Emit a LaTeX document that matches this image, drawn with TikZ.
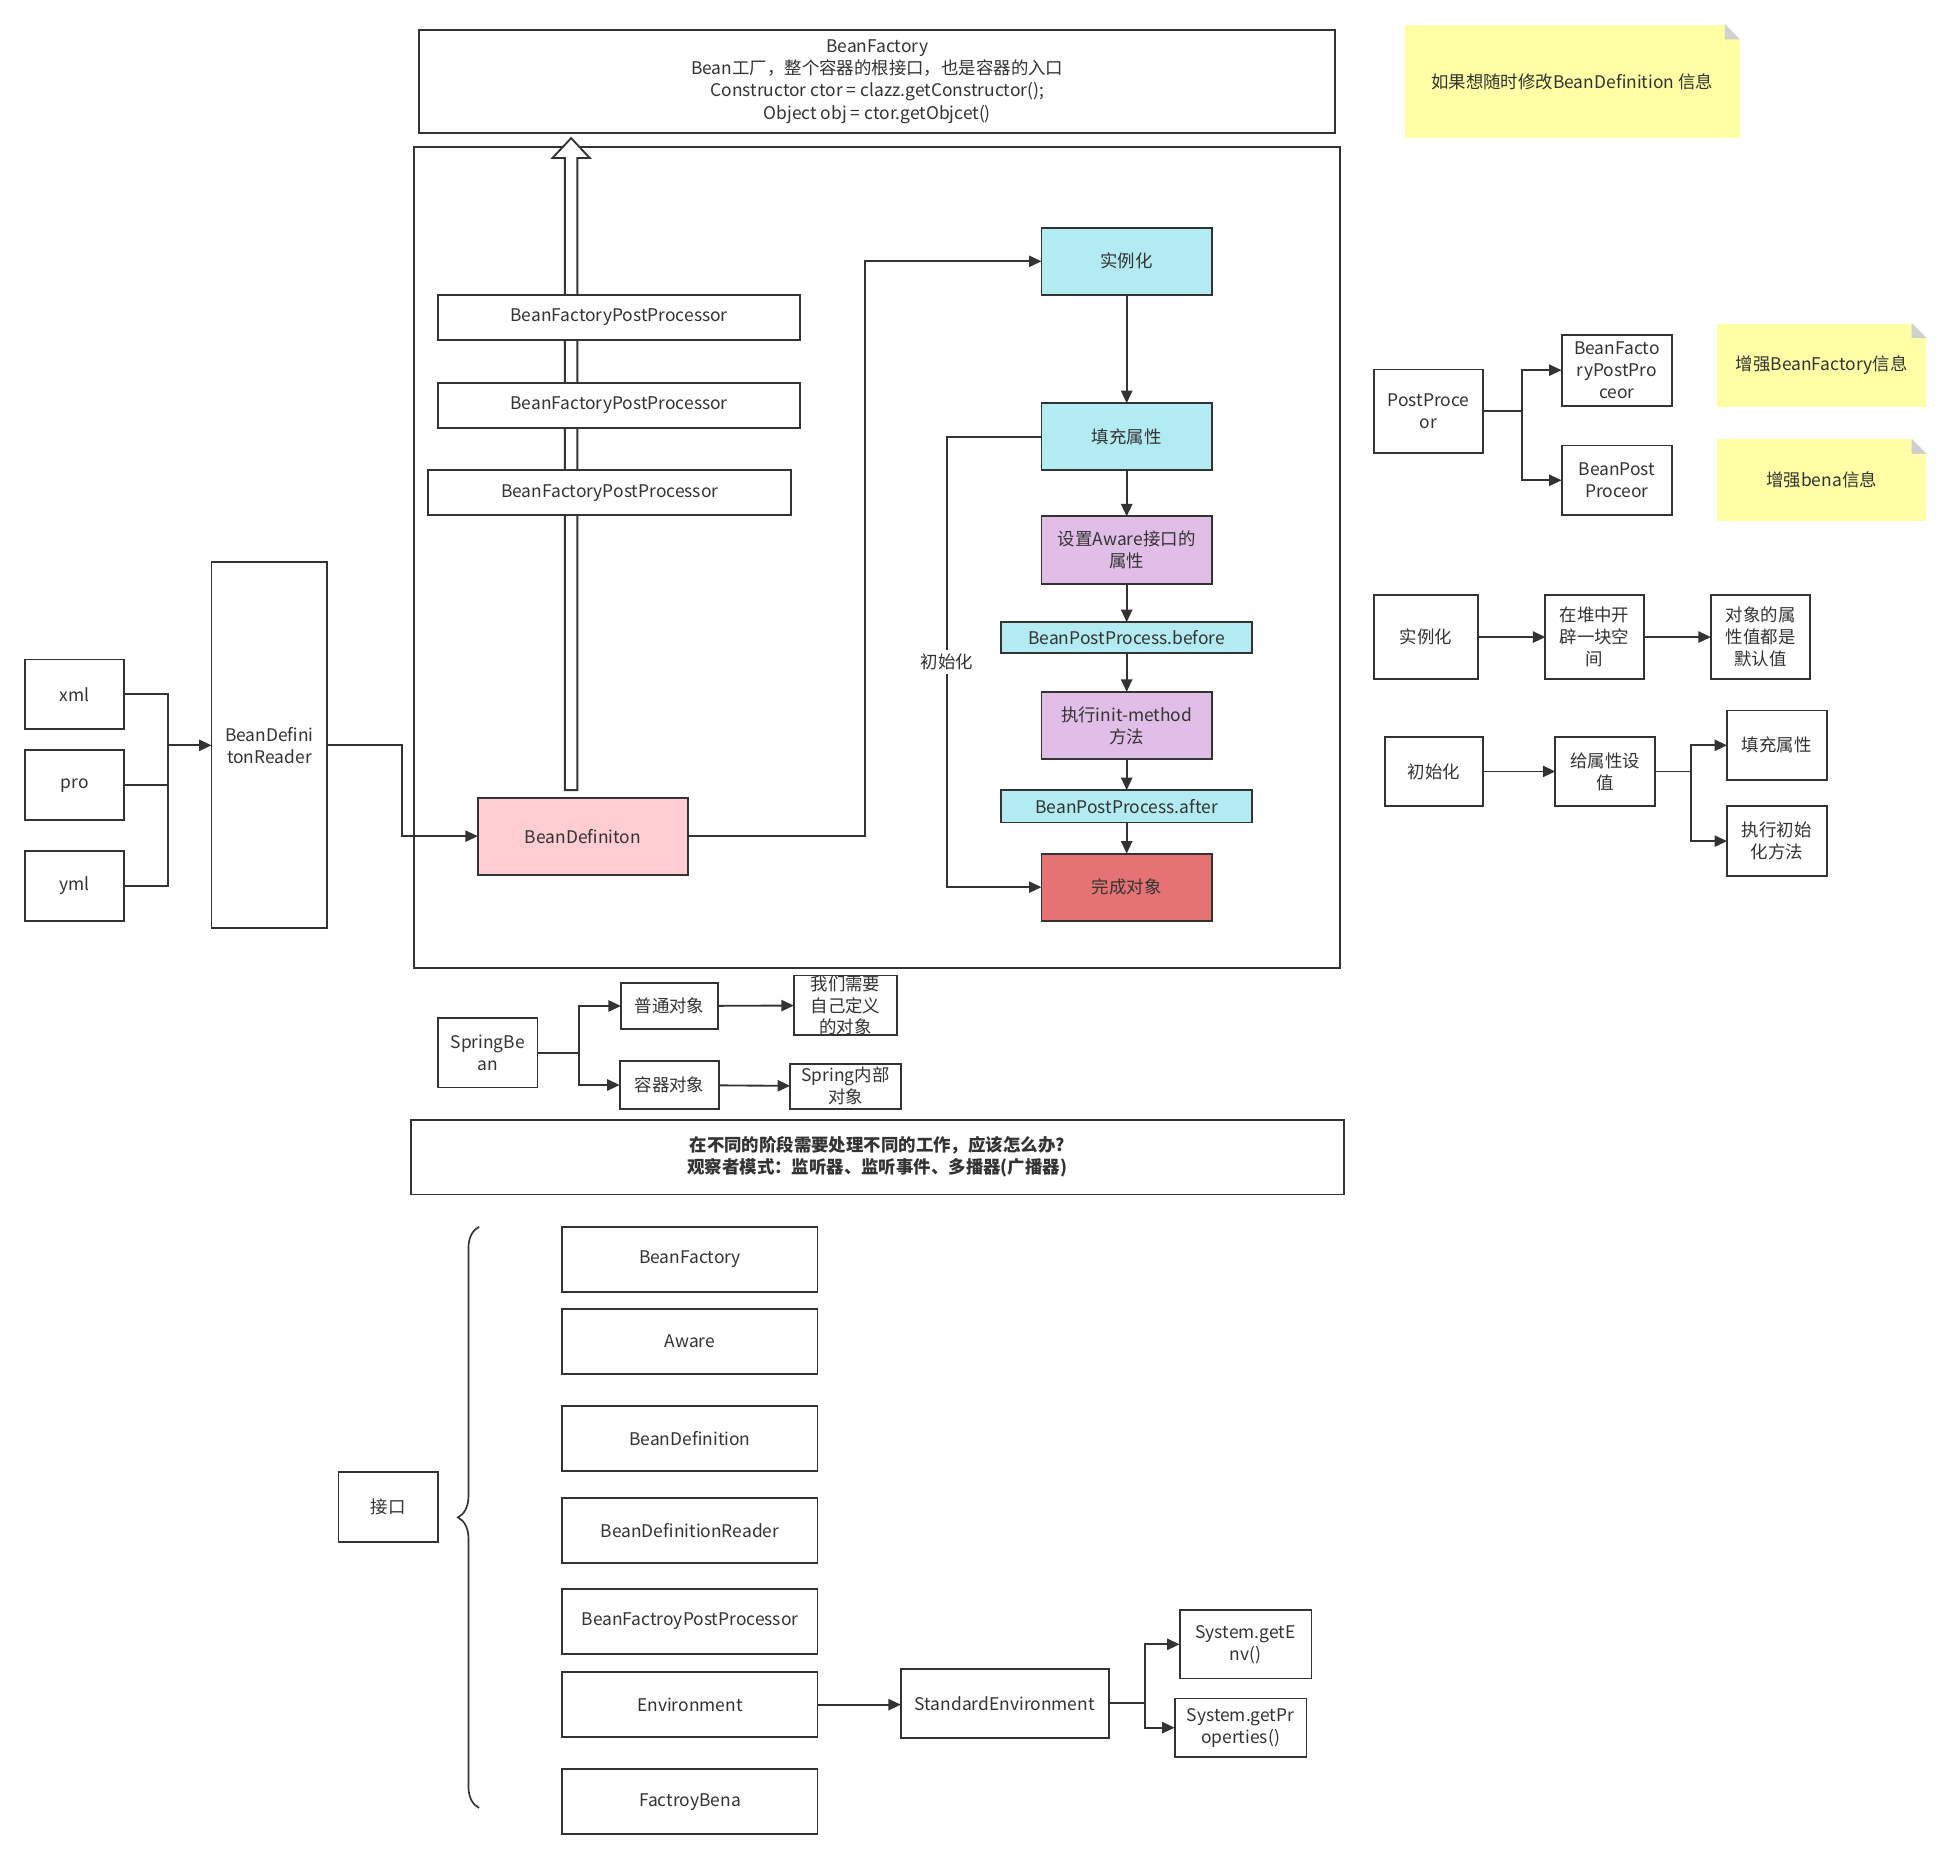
\documentclass[tikz,border=0pt]{standalone}
\usepackage{fontspec}
\setmainfont{Noto Sans CJK SC}
\usepackage{tikz}
\usetikzlibrary{arrows.meta,positioning,calc,decorations.pathreplacing}
\definecolor{LN}{HTML}{333333}
\definecolor{CY}{HTML}{B2EBF2}
\definecolor{PU}{HTML}{E1BEE7}
\definecolor{PK}{HTML}{FFCDD2}
\definecolor{RD}{HTML}{E57373}
\definecolor{NT}{HTML}{FFFFA6}
\definecolor{FD}{HTML}{D0D0D0}

% folded corner of a sticky note
\newcommand{\foldnote}[1]{%
  \fill[white] (#1.north east) -- ++(-12,0) -- ++(12,12) -- cycle;
  \fill[FD] (#1.north east) ++(-12,0) -- ++(0,12) -- ++(12,0) -- cycle;}

\begin{document}
\begin{tikzpicture}[
      x=0.6pt, y=-0.6pt,
      every node/.style={font=\fontsize{8.4}{10.6}\selectfont, text=LN},
      box/.style={rectangle, draw=LN, line width=0.9pt, fill=white, align=center, inner sep=1pt, outer sep=0pt},
      note/.style={rectangle, fill=NT, align=center, inner sep=1pt},
      sz/.style 2 args={minimum width=#1*0.6pt, minimum height=#2*0.6pt},
      line/.style={LN, line width=0.9pt},
      arrow/.style={-{Triangle[length=6pt,width=5.4pt]}, LN, line width=0.9pt},
      curly/.style={decorate, decoration={brace, amplitude=10.2pt}, LN, line width=0.8pt}
    ]
    \useasboundingbox (0,0) rectangle (1568,1495);

    % BeanFactory and container
    \node[box, sz={736}{83}, font=\fontsize{8.4}{10.8}\selectfont] (bf) at (705,65.5) {BeanFactory\\Bean工厂，整个容器的根接口，也是容器的入口\\Constructor ctor = clazz.getConstructor();\\Object obj = ctor.getObjcet()};
    \node[box, fill=none, sz={744}{660}] (ctx) at (705,448) {};

    \node[box, fill=PK, sz={169}{62}] (bd) at (468.5,672) {BeanDefiniton};

    % hollow arrow up to BeanFactory
    \coordinate (hb) at ($(bd.north)+(-9.5,-6)$);
    \coordinate (ht) at ($(hb |- bf.south)+(0,4)$);
    \draw[line, fill=white] ($(hb)+(-5,0)$) -- ($(ht)+(-5,16)$) -- ($(ht)+(-15,16)$) -- (ht)
      -- ($(ht)+(15,16)$) -- ($(ht)+(5,16)$) -- ($(hb)+(5,0)$) -- cycle;

    \node[box, sz={291}{36}] (bfpp1) at (497.5,255) {BeanFactoryPostProcessor};
    \node[box, sz={291}{36}, below=21pt of bfpp1] (bfpp2) {BeanFactoryPostProcessor};
    \node[box, sz={292}{36}] (bfpp3) at (490,396) {BeanFactoryPostProcessor};

    % Bean life cycle
    \node[box, fill=CY, sz={137}{54}] (inst) at (905.5,210) {实例化};
    \node[box, fill=CY, sz={137}{54}, below=52.2pt of inst] (popu) {填充属性};
    \node[box, fill=PU, sz={137}{54}, below=22.2pt of popu] (aware) {设置Aware接口的\\属性};
    \node[box, fill=CY, sz={202}{25}, below=18.6pt of aware] (before) {BeanPostProcess.before};
    \node[box, fill=PU, sz={137}{54}, below=18.6pt of before] (initm) {执行init-method\\方法};
    \node[box, fill=CY, sz={202}{26}, below=15pt of initm] (after) {BeanPostProcess.after};
    \node[box, fill=RD, sz={137}{54}, below=15pt of after] (done) {完成对象};

    \draw[arrow] (bd.east) -- ++(142,0) |- (inst.west);
    \draw[arrow] (inst) -- (popu);
    \draw[arrow] (popu) -- (aware);
    \draw[arrow] (aware) -- (before);
    \draw[arrow] (before) -- (initm);
    \draw[arrow] (initm) -- (after);
    \draw[arrow] (after) -- (done);
    \draw[arrow] (popu.west) -- ++(-76,0) |- node[pos=0.25, fill=white, inner sep=2pt] (lblinit) {初始化} (done.west);

    % Sources and reader
    \node[box, sz={80}{56}] (xml) at (60,558) {xml};
    \node[box, sz={80}{56}, below=10.2pt of xml] (pro) {pro};
    \node[box, sz={80}{56}, below=15pt of pro] (yml) {yml};
    \node[box, sz={93}{294}] (reader) at (216.5,599) {BeanDefini\\tonReader};
    \coordinate (jn) at ($(reader.west)+(-35,0)$);
    \draw[line] (xml.east) -| (jn);
    \draw[line] (pro.east) -| (jn);
    \draw[line] (yml.east) -| (jn);
    \draw[arrow] (jn) -- (reader.west);
    \draw[arrow] (reader.east) -- ++(60,0) |- (bd.west);

    % Notes and post processors
    \node[note, sz={269}{91}] (n1) at (1263.5,65.5) {如果想随时修改BeanDefinition 信息};
    \foldnote{n1}
    \node[box, sz={88}{67}] (pp) at (1148,330.5) {PostProce\\or};
    \node[box, sz={89}{57}] (bfppr) at (1299.5,297.5) {BeanFacto\\ryPostPro\\ceor};
    \node[box, sz={89}{56}] (bppr) at (1299.5,386) {BeanPost\\Proceor};
    \draw[line] (pp.east) -- ++(31,0) coordinate (b1);
    \draw[arrow] (b1) |- (bfppr.west);
    \draw[arrow] (b1) |- (bppr.west);
    \node[note, sz={168}{67}] (n2) at (1464,293.5) {增强BeanFactory信息};
    \foldnote{n2}
    \node[note, sz={168}{66}] (n3) at (1464,386) {增强bena信息};
    \foldnote{n3}

    % Instantiate / initialise
    \node[box, sz={84}{68}] (inst2) at (1146,512) {实例化};
    \node[box, sz={79}{68}] (heap) at (1281.5,512) {在堆中开\\辟一块空\\间};
    \node[box, sz={80}{68}] (dflt) at (1415,512) {对象的属\\性值都是\\默认值};
    \draw[arrow] (inst2) -- (heap);
    \draw[arrow] (heap) -- (dflt);
    \node[box, sz={79}{56}] (init2) at (1152.5,620) {初始化};
    \node[box, sz={80}{56}] (setv) at (1290,620) {给属性设\\值};
    \node[box, sz={80}{56}] (fill2) at (1428,599) {填充属性};
    \node[box, sz={80}{56}] (initx) at (1428,676) {执行初始\\化方法};
    \draw[arrow] (init2) -- (setv);
    \draw[line] (setv.east) -- ++(29,0) coordinate (b2);
    \draw[arrow] (b2) |- (fill2.west);
    \draw[arrow] (b2) |- (initx.west);

    % SpringBean
    \node[box, sz={80}{56}] (sb) at (392,846) {SpringBe\\an};
    \node[box, sz={78}{37}] (norm) at (538,808.5) {普通对象};
    \node[box, sz={80}{38}] (cont) at (538,872) {容器对象};
    \node[box, sz={83}{48}, inner sep=0pt, font=\fontsize{8.4}{10.2}\selectfont] (own) at (679.5,808) {我们需要\\自己定义\\的对象};
    \node[box, sz={89}{36}, inner sep=0pt] (inner) at (679.5,873) {Spring内部\\对象};
    \draw[line] (sb.east) -- ++(33,0) coordinate (b3);
    \draw[arrow] (b3) |- (norm.west);
    \draw[arrow] (b3) |- (cont.west);
    \draw[arrow] (norm) -- (own);
    \draw[arrow] (cont) -- (inner);

    \node[box, sz={750}{60}, font=\bfseries\fontsize{8.4}{10.6}\selectfont] (q) at (705,930) {在不同的阶段需要处理不同的工作，应该怎么办?\\观察者模式：监听器、监听事件、多播器(广播器)};

    % Interfaces
    \node[box, sz={80}{56}] (jk) at (312,1211) {接口};
    \node[box, sz={205}{52}] (l1) at (554.5,1012) {BeanFactory};
    \node[box, sz={205}{52}, below=8.4pt of l1] (l2) {Aware};
    \node[box, sz={205}{52}, below=15.6pt of l2] (l3) {BeanDefinition};
    \node[box, sz={205}{52}, below=13.2pt of l3] (l4) {BeanDefinitionReader};
    \node[box, sz={205}{52}, below=12.6pt of l4] (l5) {BeanFactroyPostProcessor};
    \node[box, sz={205}{52}, below=9pt of l5] (l6) {Environment};
    \node[box, sz={205}{52}, below=15.6pt of l6] (l7) {FactroyBena};
    \draw[curly] (385,1453) -- (385,986);

    \node[box, sz={167}{56}] (std) at (807.5,1369) {StandardEnvironment};
    \node[box, sz={106}{55}] (genv) at (1001,1321.5) {System.getE\\nv()};
    \node[box, sz={106}{47}] (gprop) at (997,1388.5) {System.getPr\\operties()};
    \draw[arrow] (l6.east) -- (l6.east -| std.west);
    \draw[line] (std.east) -- ++(29,0) coordinate (b4);
    \draw[arrow] (b4) |- (genv.west);
    \draw[arrow] (b4) |- (gprop.west);
\end{tikzpicture}
\end{document}
